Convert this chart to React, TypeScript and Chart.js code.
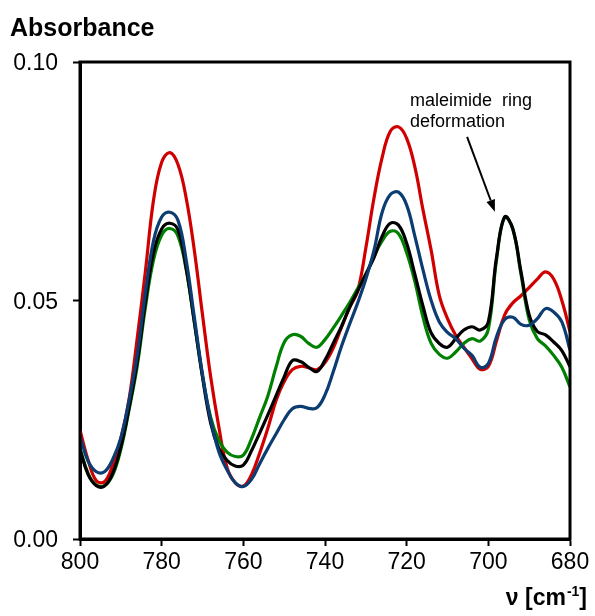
import React, { useEffect, useRef } from "react";
import { Chart, registerables } from "chart.js";

Chart.register(...registerables);

const wavenumbers = [
  800, 798, 796, 794, 792, 790, 788, 786, 784, 782, 780, 778, 776, 774, 772, 770,
  768, 766, 764, 762, 760, 758, 756, 754, 752, 750, 748, 746, 744, 742, 740, 738,
  736, 734, 732, 730, 728, 726, 724, 722, 720, 718, 716, 714, 712, 710, 708, 706,
  704, 702, 700, 698, 696, 694, 692, 690, 688, 686, 684, 682, 680,
];

const redSeries = [
  0.0228, 0.0165, 0.0122, 0.012, 0.0155, 0.021, 0.0292, 0.042, 0.056, 0.071, 0.079, 0.081,
  0.0785, 0.0715, 0.0605, 0.047, 0.034, 0.0235, 0.015, 0.0118, 0.0111, 0.0135, 0.018, 0.0232,
  0.029, 0.033, 0.0355, 0.0362, 0.0359, 0.0355, 0.037, 0.04, 0.0443, 0.0485, 0.052, 0.061,
  0.0715, 0.08, 0.0855, 0.0864, 0.084, 0.078, 0.069, 0.0605, 0.051, 0.0462, 0.0427, 0.0402,
  0.0378, 0.0356, 0.0362, 0.0415, 0.047, 0.0495, 0.051, 0.0527, 0.0545, 0.056, 0.0545, 0.05,
  0.0435,
];

const blueSeries = [
  0.0214, 0.0163, 0.0141, 0.0141, 0.0167, 0.0212, 0.029, 0.0385, 0.0515, 0.0625, 0.0675, 0.0685,
  0.0668, 0.0585, 0.0465, 0.0345, 0.025, 0.0183, 0.0145, 0.0118, 0.011, 0.0125, 0.0158, 0.019,
  0.022, 0.025, 0.0273, 0.0278, 0.0274, 0.0275, 0.0302, 0.035, 0.0403, 0.045, 0.0495, 0.0545,
  0.0605, 0.0685, 0.0722, 0.0727, 0.07, 0.0635, 0.0564, 0.05, 0.0455, 0.0433, 0.042, 0.04,
  0.0385, 0.036, 0.0368, 0.0424, 0.046, 0.0465, 0.045, 0.0448, 0.0462, 0.0483, 0.0476, 0.0455,
  0.0396,
];

const blackSeries = [
  0.0187, 0.0135, 0.0112, 0.0111, 0.0138, 0.0193, 0.0275, 0.037, 0.0495, 0.06, 0.065, 0.0662,
  0.0648, 0.0568, 0.0455, 0.034, 0.0243, 0.019, 0.0165, 0.0153, 0.0155, 0.0185, 0.0222, 0.026,
  0.03, 0.034, 0.0374, 0.0372, 0.036, 0.0351, 0.0375, 0.041, 0.0445, 0.0485, 0.052, 0.0555,
  0.059, 0.0635, 0.0662, 0.0658, 0.062, 0.0555, 0.0488, 0.0432, 0.041, 0.0402, 0.042, 0.0438,
  0.0445, 0.0438, 0.0455, 0.059, 0.0675, 0.065, 0.056, 0.047, 0.0435, 0.0428, 0.0413, 0.0395,
  0.0361,
];

const greenSeries = [
  0.019, 0.0137, 0.0113, 0.0112, 0.0134, 0.0188, 0.027, 0.0362, 0.0485, 0.0585, 0.0637, 0.0651,
  0.0635, 0.0565, 0.0455, 0.0342, 0.0255, 0.0207, 0.0182, 0.0173, 0.0176, 0.021, 0.0255, 0.03,
  0.036, 0.0412, 0.0428, 0.0425, 0.041, 0.0402, 0.0418, 0.0442, 0.0468, 0.0495, 0.0525, 0.0555,
  0.0593, 0.0625, 0.0645, 0.064, 0.06, 0.054, 0.0465, 0.041, 0.0387, 0.0379, 0.0392, 0.041,
  0.042, 0.0415, 0.044, 0.0585, 0.0675, 0.065, 0.0555, 0.046, 0.042, 0.0405, 0.0385, 0.036,
  0.0319,
];

const xTicks = [800, 780, 760, 740, 720, 700, 680];
const yTicks = [0, 0.05, 0.1];

const annotationLines = ["maleimide  ring", "deformation"];
const annotationTextAt = { x: 719.2, y1: 0.0908, y2: 0.0864 };
const arrowFrom = { x: 705.2, y: 0.0843 };
const arrowTo = { x: 698.4, y: 0.0686 };

const FONT = '"Liberation Sans", Arial, sans-serif';

function toPoints(values: number[]) {
  return values.map((v, i) => ({ x: wavenumbers[i], y: v }));
}

const overlayPlugin = {
  id: "overlay",
  afterDraw(chart: any) {
    const { ctx, chartArea, scales } = chart;
    const { left, top, right, bottom } = chartArea;
    const xs = scales.x;
    const ys = scales.y;
    ctx.save();
    ctx.strokeStyle = "#000";
    ctx.lineWidth = 3;
    ctx.strokeRect(left, top, right - left, bottom - top);

    ctx.fillStyle = "#000";
    ctx.textAlign = "left";
    ctx.textBaseline = "alphabetic";
    ctx.font = `bold 25px ${FONT}`;
    ctx.fillText("Absorbance", 10, 36);

    // x axis title: ν [cm-1]
    const mainFont = `bold 23px ${FONT}`;
    const supFont = `bold 14px ${FONT}`;
    ctx.font = mainFont;
    const p1 = "\u03bd [cm";
    const w1 = ctx.measureText(p1).width;
    const w3 = ctx.measureText("]").width;
    ctx.font = supFont;
    const sup = "-1";
    const w2 = ctx.measureText(sup).width;
    const rightEdge = 587;
    const baseY = 605;
    let xPos = rightEdge - (w1 + w2 + w3 + 1);
    ctx.font = mainFont;
    ctx.fillText(p1, xPos, baseY);
    xPos += w1 + 1;
    ctx.font = supFont;
    ctx.fillText(sup, xPos, baseY - 9);
    xPos += w2;
    ctx.font = mainFont;
    ctx.fillText("]", xPos, baseY);

    // annotation
    ctx.font = `18px ${FONT}`;
    const tx = xs.getPixelForValue(annotationTextAt.x);
    ctx.fillText(annotationLines[0], tx, ys.getPixelForValue(annotationTextAt.y1));
    ctx.fillText(annotationLines[1], tx, ys.getPixelForValue(annotationTextAt.y2));

    const ax0 = xs.getPixelForValue(arrowFrom.x);
    const ay0 = ys.getPixelForValue(arrowFrom.y);
    const ax1 = xs.getPixelForValue(arrowTo.x);
    const ay1 = ys.getPixelForValue(arrowTo.y);
    const ang = Math.atan2(ay1 - ay0, ax1 - ax0);
    const headLen = 12;
    const headW = 4.5;
    const bx = ax1 - headLen * Math.cos(ang);
    const by = ay1 - headLen * Math.sin(ang);
    ctx.lineWidth = 2;
    ctx.beginPath();
    ctx.moveTo(ax0, ay0);
    ctx.lineTo(bx, by);
    ctx.stroke();
    ctx.beginPath();
    ctx.moveTo(ax1, ay1);
    ctx.lineTo(bx + headW * Math.sin(ang), by - headW * Math.cos(ang));
    ctx.lineTo(bx - headW * Math.sin(ang), by + headW * Math.cos(ang));
    ctx.closePath();
    ctx.fill();
    ctx.restore();
  },
};

export default function App() {
  const canvasRef = useRef<HTMLCanvasElement | null>(null);

  useEffect(() => {
    if (!canvasRef.current) return;
    const mk = (label: string, data: number[], color: string) => ({
      label,
      data: toPoints(data),
      borderColor: color,
      backgroundColor: color,
      borderWidth: 3.2,
      pointRadius: 0,
      tension: 0.4,
      fill: false,
    });
    const chart = new Chart(canvasRef.current, {
      type: "line",
      data: {
        datasets: [
          mk("blue", blueSeries, "#0b3c72"),
          mk("black", blackSeries, "#000000"),
          mk("green", greenSeries, "#008000"),
          mk("red", redSeries, "#d00000"),
        ],
      },
      options: {
        responsive: false,
        animation: false,
        parsing: true,
        layout: { padding: { top: 62, right: 25, left: 0, bottom: 0 } },
        plugins: { legend: { display: false }, tooltip: { enabled: false } },
        scales: {
          x: {
            type: "linear",
            reverse: true,
            min: 680,
            max: 800,
            afterBuildTicks: (s: any) => {
              s.ticks = xTicks.map((v) => ({ value: v }));
            },
            afterFit: (s: any) => {
              s.height = 77;
            },
            ticks: {
              autoSkip: false,
              maxRotation: 0,
              color: "#000",
              padding: 3,
              font: { family: FONT, size: 23 },
            },
            grid: {
              display: true,
              drawOnChartArea: false,
              drawTicks: true,
              tickLength: 7,
              tickWidth: 2,
              tickColor: "#000",
            },
            border: { display: true, width: 3, color: "#000" },
          },
          y: {
            type: "linear",
            min: 0,
            max: 0.1,
            afterBuildTicks: (s: any) => {
              s.ticks = yTicks.map((v) => ({ value: v }));
            },
            afterFit: (s: any) => {
              s.width = 80;
            },
            ticks: {
              color: "#000",
              padding: 15,
              labelOffset: 2,
              font: { family: FONT, size: 23 },
              callback: (v: any) => Number(v).toFixed(2),
            },
            grid: {
              display: true,
              drawOnChartArea: false,
              drawTicks: true,
              tickLength: 7,
              tickWidth: 2,
              tickColor: "#000",
            },
            border: { display: true, width: 3, color: "#000" },
          },
        },
      },
      plugins: [overlayPlugin],
    } as any);
    return () => chart.destroy();
  }, []);

  return (
    <div style={{ position: "absolute", left: 0, top: 0, width: 595, height: 616, background: "#fff" }}>
      <canvas ref={canvasRef} width={595} height={616} />
    </div>
  );
}
